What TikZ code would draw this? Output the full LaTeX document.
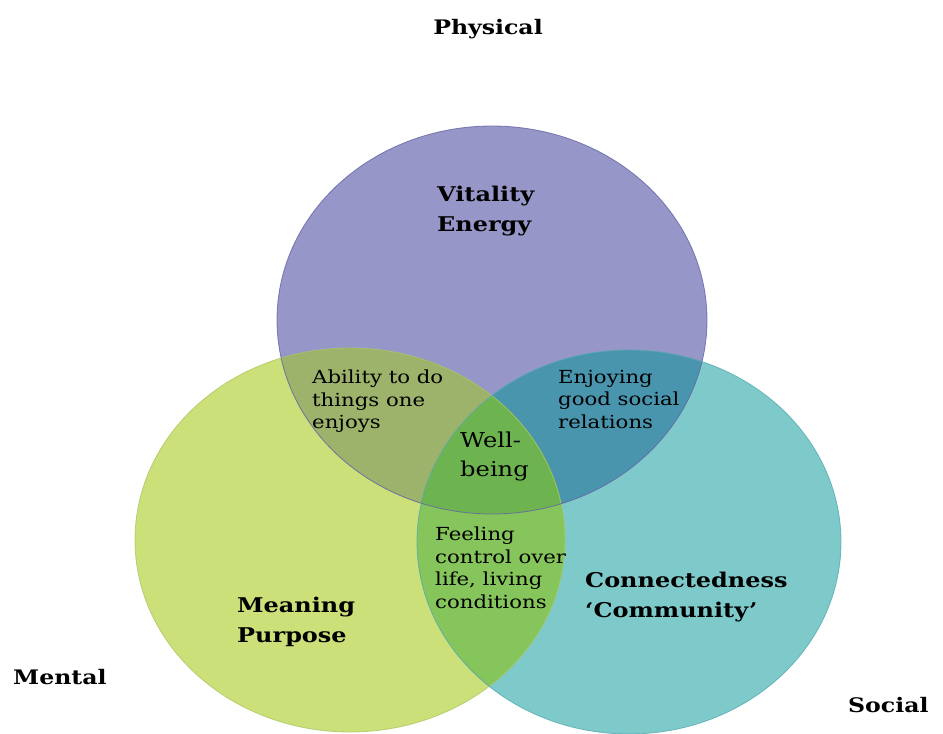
\documentclass[tikz,border=0pt]{standalone}
\usepackage{fontspec}
\setmainfont[FakeStretch=1.18]{DejaVu Serif}
\definecolor{physfill}{RGB}{150,150,200}
\definecolor{mentfill}{RGB}{204,224,122}
\definecolor{socfill}{RGB}{126,202,203}
\definecolor{pmfill}{RGB}{157,178,106}
\definecolor{psfill}{RGB}{74,149,174}
\definecolor{msfill}{RGB}{134,196,92}
\definecolor{pmsfill}{RGB}{109,180,80}
\definecolor{physline}{RGB}{100,100,165}
\definecolor{mentline}{RGB}{170,200,95}
\definecolor{socline}{RGB}{85,170,175}
\tikzset{
  heading/.style={font=\fontsize{20}{30}\selectfont\bfseries, inner sep=0pt},
  arealabel/.style={font=\fontsize{20.3}{30}\selectfont\bfseries, align=left, inner sep=0pt, anchor=north west},
  overlap/.style={font=\fontsize{18}{22.5}\selectfont, align=left, inner sep=0pt, anchor=north west},
  core/.style={font=\fontsize{20.5}{29}\selectfont, align=left, inner sep=0pt, anchor=north west},
}
\newcommand{\physshape}{(492,320) ellipse [x radius=215pt, y radius=194pt]}
\newcommand{\mentshape}{(350,540) ellipse [x radius=215pt, y radius=192pt]}
\newcommand{\socshape}{(629,542) ellipse [x radius=212pt, y radius=192pt]}
\begin{document}
\begin{tikzpicture}[x=1pt,y=-1pt]
  \useasboundingbox (0,0) rectangle (943,734);
  \fill[white] (0,0) rectangle (943,734);

  % the three domains
  \fill[mentfill] \mentshape;
  \fill[socfill] \socshape;
  \fill[physfill] \physshape;

  % pairwise overlaps
  \begin{scope}
    \clip \physshape;
    \fill[pmfill] \mentshape;
  \end{scope}
  \begin{scope}
    \clip \physshape;
    \fill[psfill] \socshape;
  \end{scope}
  \begin{scope}
    \clip \mentshape;
    \fill[msfill] \socshape;
  \end{scope}
  % centre where all three meet
  \begin{scope}
    \clip \physshape;
    \clip \mentshape;
    \fill[pmsfill] \socshape;
  \end{scope}

  % outlines
  \draw[mentline, line width=0.8pt, opacity=0.8] \mentshape;
  \draw[socline, line width=0.8pt, opacity=0.8] \socshape;
  \draw[physline, line width=0.8pt, opacity=0.8] \physshape;

  % outer labels
  \node[heading] (physical) at (488,29) {Physical};
  \node[heading, anchor=west] (mental) at (13,677) {Mental};
  \node[heading, anchor=west] (social) at (848,705) {Social};

  % domain labels
  \node[arealabel] (vitality) at (437,186) {Vitality\\Energy};
  \node[arealabel] (meaning) at (237,597) {Meaning\\Purpose};
  \node[arealabel] (connect) at (585,572) {Connectedness\\‘Community’};

  % overlap labels
  \node[overlap] (ability) at (312,370) {Ability to do\\things one\\enjoys};
  \node[overlap] (enjoying) at (558,370) {Enjoying\\good social\\relations};
  \node[overlap] (feeling) at (435,527) {Feeling\\control over\\life, living\\conditions};
  \node[core] (wellbeing) at (460,432) {Well-\\being};
\end{tikzpicture}
\end{document}
